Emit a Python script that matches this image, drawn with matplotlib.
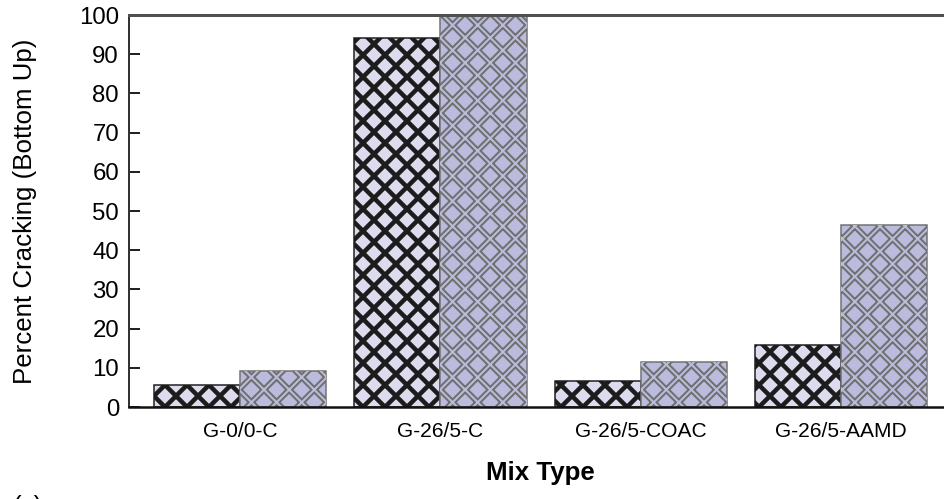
# Percent cracking (bottom up) by mix type

import matplotlib.pyplot as plt
import numpy as np

plt.rcParams['font.family'] = ['Liberation Sans', 'DejaVu Sans']

mixes = ['G-0/0-C', 'G-26/5-C', 'G-26/5-COAC', 'G-26/5-AAMD']
crack_a = [5.7, 94.2, 6.6, 15.8]
crack_b = [9.3, 100.0, 11.5, 46.3]

# hatch spacing depends on dpi and on the number of 'x' in the pattern
DPI = 528


def px(v):
	return v * 72.0 / DPI


def style_hatch(bars, pattern):
	for b in bars:
		b.set_hatch(pattern)


fig = plt.figure(figsize=(944.05 / DPI, 499.05 / DPI), dpi=DPI)
ax = fig.add_axes([129 / 944, 92 / 499, 823 / 944, 392 / 499])

x = np.arange(len(mixes))
w = 0.43

with plt.rc_context({'hatch.linewidth': px(4.5)}):
	b1 = ax.bar(x - w / 2, crack_a, w, facecolor='#dcdcee', edgecolor='#1c1c1c',
		linewidth=px(1.5))
	style_hatch(b1, 'x' * 8)

with plt.rc_context({'hatch.linewidth': px(6)}):
	b2 = ax.bar(x + w / 2, crack_b, w, facecolor='#bbbcdd', edgecolor='#707070',
		linewidth=px(1.5))
	style_hatch(b2, 'x' * 7)

# thin lines in the fill colour on top split the grey hatch into double lines
with plt.rc_context({'hatch.linewidth': px(2)}):
	b3 = ax.bar(x + w / 2, crack_b, w, facecolor='none', edgecolor='#bbbcdd',
		linewidth=0)
	style_hatch(b3, 'x' * 7)

ax.set_xlim(-0.554, 3.554)
ax.set_ylim(0, 100)
ax.set_yticks(range(0, 101, 10))
ax.set_xticks(x)
ax.set_xticklabels(mixes)

ax.tick_params(axis='y', direction='in', length=px(11), width=px(2), labelsize=px(24),
	pad=px(10), color='#222222')
ax.tick_params(axis='x', length=0, labelsize=px(21), pad=px(15))

ax.spines['top'].set_linewidth(px(3))
ax.spines['top'].set_color('#505050')
ax.spines['left'].set_linewidth(px(2))
ax.spines['left'].set_color('#333333')
ax.spines['bottom'].set_linewidth(px(2.5))
ax.spines['bottom'].set_color('#111111')
ax.spines['right'].set_visible(False)

ax.set_ylabel('Percent Cracking (Bottom Up)', fontsize=px(26))
ax.yaxis.set_label_coords(-0.112, 0.5)
ax.set_xlabel('Mix Type', fontsize=px(26), fontweight='bold', labelpad=px(20))

fig.text(12 / 944, 1 - 495 / 499, '(c)', va='top', fontsize=px(26))

fig.savefig('out.png', dpi=DPI)
